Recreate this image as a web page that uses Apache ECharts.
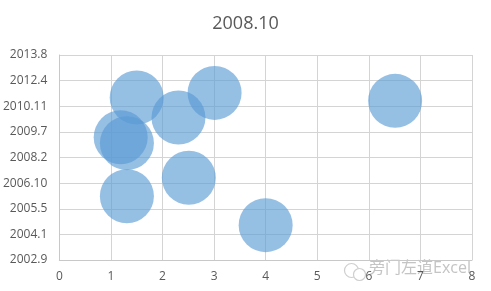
<!DOCTYPE html>
<html><head><meta charset="utf-8">
<script src="https://cdn.jsdelivr.net/npm/echarts@6/dist/echarts.min.js"></script>
<style>html,body{margin:0;padding:0;background:#fff}#c{width:491px;height:291px}</style>
</head><body><div id="c"></div>
<script>
const titleText = '2008.10';
const yTickLabels = ['2002.9','2004.1','2005.5','2006.10','2008.2','2009.7','2010.11','2012.4','2013.8'];
const xValues = [1.50, 2.31, 3.01, 1.19, 1.31, 1.31, 2.51, 4.00, 6.51];
const yValues = [6.34, 5.56, 6.52, 4.79, 4.56, 2.49, 3.21, 1.36, 6.21];
const bubbleSizes = [1, 1, 1, 1, 1, 1, 1, 1, 1];
const watermark = '旁门左道Excel';

const data = xValues.map((x, i) => [x, yValues[i], bubbleSizes[i]]);
const font = '"Open Sans", "Noto Sans CJK SC", sans-serif';
const chart = echarts.init(document.getElementById('c'));
chart.setOption({
  animation: false,
  title: {text: titleText, left: 'center', top: 10,
    textStyle: {fontFamily: font, fontSize: 18, fontWeight: 'normal', color: '#595959'}},
  grid: {left: 58, right: 19, top: 55, bottom: 31, containLabel: false},
  xAxis: {type: 'value', min: 0, max: 8, interval: 1,
    axisLine: {show: true, lineStyle: {color: '#c8c8c8'}},
    axisTick: {show: false},
    splitLine: {show: true, lineStyle: {color: '#d4d4d4'}},
    axisLabel: {fontFamily: font, fontSize: 12, color: '#595959', margin: 11}},
  yAxis: {type: 'value', min: 0, max: 8, interval: 1,
    axisLine: {show: true, lineStyle: {color: '#c8c8c8'}},
    axisTick: {show: false},
    splitLine: {show: true, lineStyle: {color: '#d4d4d4'}},
    axisLabel: {fontFamily: font, fontSize: 12, color: '#595959', margin: 12,
      formatter: v => yTickLabels[Math.round(v)]}},
  series: [{type: 'scatter', data: data,
    symbolSize: d => 54 * d[2],
    itemStyle: {color: 'rgba(91,155,213,0.8)'}}],
  graphic: [
    {type: 'group', left: 342, top: 261, silent: true, children: [
      {type: 'circle', shape: {cx: 10, cy: 7, r: 7}, style: {fill: 'none', stroke: '#cfcfcf', lineWidth: 1.2}},
      {type: 'circle', shape: {cx: 18, cy: 11, r: 6}, style: {fill: '#fff', stroke: '#cfcfcf', lineWidth: 1.2}}
    ]},
    {type: 'text', left: 369, top: 260, silent: true,
      style: {text: watermark, fontFamily: font, fontSize: 16, fill: '#c4c4c4'}}
  ]
});
</script></body></html>
